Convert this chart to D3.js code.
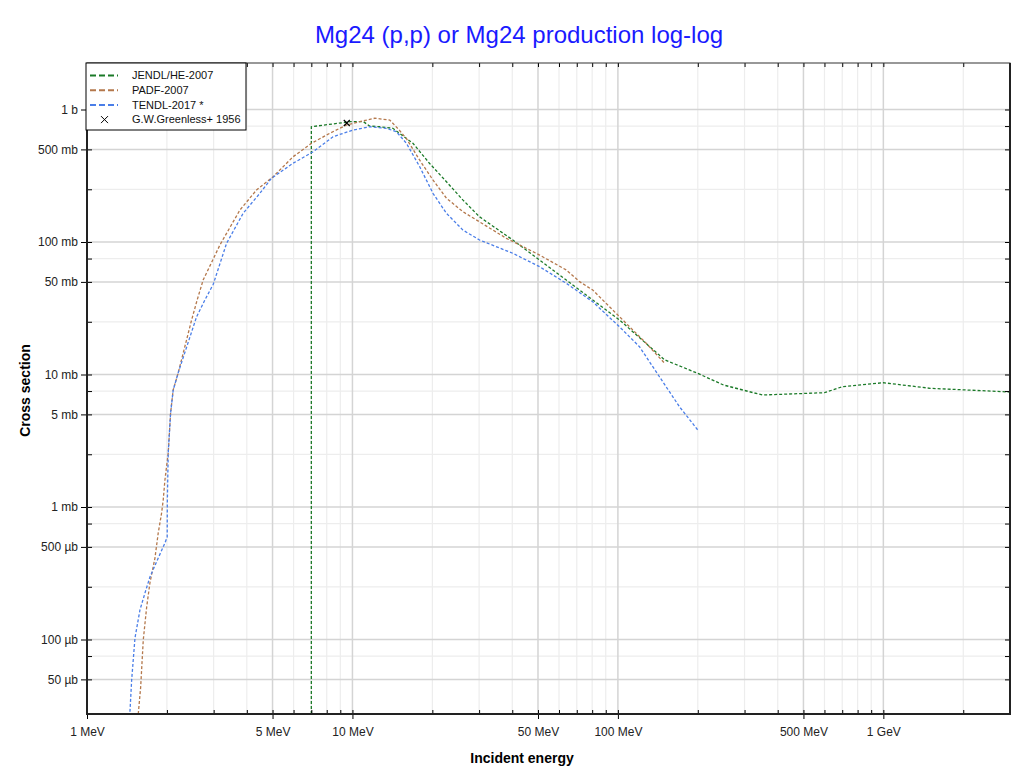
<!DOCTYPE html>
<html>
<head>
<meta charset="utf-8">
<script src="https://cdn.jsdelivr.net/npm/d3@7"></script>
<style>
  body { margin: 0; background: #fff; }
  svg { display: block; font-family: "Liberation Sans", Arial, sans-serif; }
</style>
</head>
<body>
<svg id="chart" width="1020" height="774"></svg>
<script>
// energies in MeV, cross sections in mb (1e-6 = nothing, drawn on the bottom edge)
const jendlE = [7.0, 7.0, 9.8, 11.0, 11.6, 12.7, 14.2, 16.9, 19.5, 22.6, 26.1, 30.1, 40.2, 50.7, 63.9, 71.7, 80.4, 101.4, 150, 200, 250, 350, 600, 700, 1000, 1500, 3000];
const jendlXS = [1e-6, 741, 809, 809, 750, 741, 721, 556, 393, 285, 207, 155, 103.5, 73.1, 51.7, 43.4, 36.5, 25.8, 12.9, 10.2, 8.33, 7.0, 7.29, 8.09, 8.67, 7.87, 7.38];

const padfE = [1.56, 1.593, 1.629, 1.678, 1.726, 1.803, 1.855, 1.91, 1.937, 1.966, 2.023, 2.065, 2.112, 2.206, 2.478, 2.60, 2.739, 3.167, 3.765, 4.352, 5.025, 5.975, 7.01, 8.21, 9.49, 10.65, 12.13, 13.82, 15.0, 16.0, 17.9, 20.1, 22.6, 26.1, 30.1, 38.0, 50.7, 63.9, 71.7, 80.4, 101.4, 127.8, 150];
const padfXS = [1e-6, 0.0438, 0.099, 0.176, 0.267, 0.412, 0.637, 0.901, 1.13, 1.6, 2.56, 5.12, 7.64, 10.3, 25.8, 36.5, 51.7, 94.9, 174, 247, 311, 440, 556, 661, 764, 809, 859, 833, 700, 600, 416, 294, 214, 169, 142, 106.6, 79.7, 61.5, 50.2, 43.4, 27.3, 17.2, 12.15];

const tendlE = [1.0, 1.45, 1.473, 1.516, 1.583, 1.653, 1.726, 1.855, 1.966, 2.005, 2.007, 2.023, 2.065, 2.112, 2.206, 2.588, 2.78, 2.99, 3.356, 3.876, 4.478, 4.957, 5.975, 7.107, 8.45, 10.05, 11.62, 13.43, 14.64, 15.97, 17.92, 20.11, 22.58, 26.08, 30.13, 40.2, 50.7, 63.9, 80.4, 101.4, 120.6, 143.4, 170.6, 200];
const tendlXS = [1e-6, 1e-6, 0.0494, 0.1026, 0.167, 0.224, 0.296, 0.412, 0.535, 0.594, 1.07, 2.56, 5.12, 7.64, 10.3, 27.3, 36.5, 48, 97.8, 165, 233, 303, 393, 480, 623, 700, 741, 721, 680, 556, 370, 233, 165, 123, 103.5, 82.2, 65.1, 48.8, 35.4, 22.9, 16.2, 9.62, 5.71, 3.81];

const expE = [9.52];
const expXS = [791];

const seriesNames = ['JENDL/HE-2007', 'PADF-2007', 'TENDL-2017 *'];
const seriesColors = ['#1b7a28', '#b4784c', '#4a7ee8'];
const expName = 'G.W.Greenless+ 1956';

const xMajor = [1, 5, 10, 50, 100, 500, 1000];
const xLabels = ['1 MeV', '5 MeV', '10 MeV', '50 MeV', '100 MeV', '500 MeV', '1 GeV'];
const xMinor = [2, 3, 4, 6, 7, 8, 9, 20, 30, 40, 60, 70, 80, 90, 200, 300, 400, 600, 700, 800, 900, 2000];
const yMajor = [0.05, 0.1, 0.5, 1, 5, 10, 50, 100, 500, 1000];
const yLabels = ['50 µb', '100 µb', '500 µb', '1 mb', '5 mb', '10 mb', '50 mb', '100 mb', '500 mb', '1 b'];
const yMinor = [0.075, 0.25, 0.75, 2.5, 7.5, 25, 75, 250, 750];

const margin = { top: 63, right: 10, bottom: 60, left: 87 },
  width = 1020,
  height = 774;

const svg = d3.select('#chart').style('background-color', '#fff');

const x = d3.scaleLog().domain([1, 3000]).range([margin.left, width - margin.right]);
const y = d3
  .scaleLog()
  .domain([0.0274, 2244])
  .range([height - margin.bottom, margin.top])
  .clamp(true);

// grid
const grid = svg.append('g');
grid.selectAll('.vmin').data(xMinor).join('line')
  .attr('x1', d => x(d)).attr('x2', d => x(d))
  .attr('y1', margin.top).attr('y2', height - margin.bottom)
  .attr('stroke', '#ededed').attr('stroke-width', 1.2);
grid.selectAll('.hmin').data(yMinor).join('line')
  .attr('y1', d => y(d)).attr('y2', d => y(d))
  .attr('x1', margin.left).attr('x2', width - margin.right)
  .attr('stroke', '#ededed').attr('stroke-width', 1.2);
grid.selectAll('.vmaj').data(xMajor).join('line')
  .attr('x1', d => x(d)).attr('x2', d => x(d))
  .attr('y1', margin.top).attr('y2', height - margin.bottom)
  .attr('stroke', '#d4d4d4').attr('stroke-width', 1.5);
grid.selectAll('.hmaj').data(yMajor).join('line')
  .attr('y1', d => y(d)).attr('y2', d => y(d))
  .attr('x1', margin.left).attr('x2', width - margin.right)
  .attr('stroke', '#d4d4d4').attr('stroke-width', 1.5);

// curves
svg.append('clipPath').attr('id', 'plotclip')
  .append('rect')
  .attr('x', margin.left).attr('y', margin.top - 2)
  .attr('width', width - margin.left - margin.right)
  .attr('height', height - margin.top - margin.bottom + 2);

const line = d3.line().x(d => x(d[0])).y(d => y(d[1]));
const series = [d3.zip(jendlE, jendlXS), d3.zip(padfE, padfXS), d3.zip(tendlE, tendlXS)];

svg.append('g').attr('clip-path', 'url(#plotclip)')
  .selectAll('path').data(series).join('path')
  .attr('d', line)
  .attr('fill', 'none')
  .attr('stroke', (d, i) => seriesColors[i])
  .attr('stroke-width', 1.3)
  .attr('stroke-dasharray', '3,2');

svg.append('g').selectAll('path').data(d3.zip(expE, expXS)).join('path')
  .attr('transform', d => `translate(${x(d[0])},${y(d[1])})`)
  .attr('d', 'M-3,-3L3,3M-3,3L3,-3')
  .attr('stroke', '#000').attr('stroke-width', 1.2);

// axes
const tickFont = g => g.selectAll('text').attr('font-size', 12).attr('fill', '#222');
const noDomain = g => g.select('.domain').remove();

svg.append('g')
  .attr('transform', `translate(${margin.left},0)`)
  .call(d3.axisLeft(y).tickValues(yMajor).tickFormat((d, i) => yLabels[i]).tickSize(6).tickPadding(3))
  .call(noDomain).call(tickFont)
  .attr('font-family', null);
svg.append('g')
  .attr('transform', `translate(${margin.left},0)`)
  .call(d3.axisRight(y).tickValues(yMajor.concat(yMinor)).tickFormat('').tickSize(5))
  .call(noDomain);
svg.append('g')
  .attr('transform', `translate(${width - margin.right},0)`)
  .call(d3.axisLeft(y).tickValues(yMajor.concat(yMinor)).tickFormat('').tickSize(5))
  .call(noDomain);

svg.append('g')
  .attr('transform', `translate(0,${height - margin.bottom})`)
  .call(d3.axisBottom(x).tickValues(xMajor).tickFormat((d, i) => xLabels[i]).tickSize(5).tickPadding(8))
  .call(noDomain).call(tickFont)
  .attr('font-family', null);
svg.append('g')
  .attr('transform', `translate(0,${height - margin.bottom})`)
  .call(d3.axisTop(x).tickValues(xMajor.concat(xMinor)).tickFormat('').tickSize(4))
  .call(noDomain);
svg.append('g')
  .attr('transform', `translate(0,${margin.top})`)
  .call(d3.axisBottom(x).tickValues(xMajor.concat(xMinor)).tickFormat('').tickSize(4))
  .call(noDomain);

svg.append('rect')
  .attr('x', margin.left).attr('y', margin.top)
  .attr('width', width - margin.left - margin.right)
  .attr('height', height - margin.top - margin.bottom)
  .attr('fill', 'none').attr('stroke', '#333').attr('stroke-width', 1);
svg.append('path')
  .attr('d', `M${margin.left},${margin.top}V${height - margin.bottom}H${width - margin.right}V${margin.top}`)
  .attr('fill', 'none').attr('stroke', '#222').attr('stroke-width', 2);

// titles
svg.append('text')
  .attr('x', 519).attr('y', 43)
  .attr('text-anchor', 'middle')
  .attr('font-size', 24)
  .attr('fill', '#1a1aff')
  .text('Mg24 (p,p) or Mg24 production log-log');

svg.append('text')
  .attr('x', 522).attr('y', 763)
  .attr('text-anchor', 'middle')
  .attr('font-size', 14).attr('font-weight', 'bold')
  .text('Incident energy');

svg.append('text')
  .attr('transform', `translate(30,${(margin.top + height - margin.bottom) / 2 + 2}) rotate(-90)`)
  .attr('text-anchor', 'middle')
  .attr('font-size', 14).attr('font-weight', 'bold')
  .text('Cross section');

// legend
const legend = svg.append('g').attr('transform', `translate(${margin.left - 1},${margin.top})`);
legend.append('rect')
  .attr('width', 160).attr('height', 67)
  .attr('fill', '#fff').attr('stroke', '#000').attr('stroke-width', 1);

const items = legend.selectAll('.item').data(seriesNames.concat([expName])).join('g')
  .attr('transform', (d, i) => `translate(0,${12.5 + i * 14.7})`);
items.filter((d, i) => i < 3).append('line')
  .attr('x1', 4).attr('x2', 32)
  .attr('stroke', (d, i) => seriesColors[i])
  .attr('stroke-width', 2)
  .attr('stroke-dasharray', '6,3');
items.filter((d, i) => i === 3).append('path')
  .attr('d', 'M15,-3.5L22,3.5M15,3.5L22,-3.5')
  .attr('stroke', '#000').attr('stroke-width', 1);
items.append('text')
  .attr('x', 46).attr('dy', '0.35em')
  .attr('font-size', 11).attr('fill', '#111')
  .text(d => d);
</script>
</body>
</html>
